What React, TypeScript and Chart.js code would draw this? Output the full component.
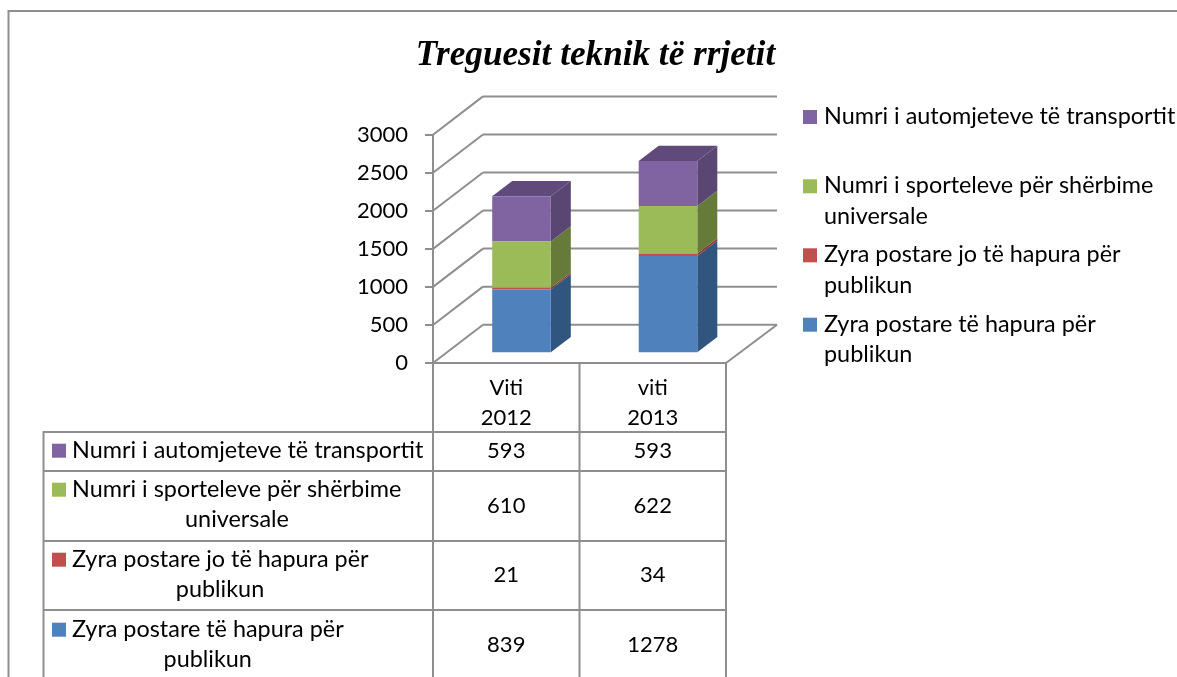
import React, { useEffect, useRef } from "react";
import { Chart, registerables } from "chart.js";

Chart.register(...registerables);

const titleText = "Treguesit teknik të rrjetit";
const categories = [["Viti", "2012"], ["viti", "2013"]];
const vehicles = [593, 593];
const counters = [610, 622];
const closedOffices = [21, 34];
const openOffices = [839, 1278];

const vehiclesName = ["Numri i automjeteve të transportit"];
const countersName = ["Numri i sporteleve për shërbime", "universale"];
const closedName = ["Zyra postare jo të hapura për", "publikun"];
const openName = ["Zyra postare të hapura për", "publikun"];

const frontColors = ["#4F81BD", "#C0504D", "#9BBB59", "#8064A2"];
const sideColors = ["#30557F", "#8C3A38", "#667B3A", "#5A4672"];
const topColor = "#5F4A7B";
const lineColor = "#8E8E8E";
const FONT = "Lato, Carlito, 'Open Sans', sans-serif";
const FS = 23.4;
const NUM_FS = 22;

// 3D projection of the Excel-style plot
const WALL_DX = 50;
const WALL_DY = -38.3;
const WALL_RIGHT = 777;
const BAR_SHIFT_X = 15.25;
const BAR_SHIFT_Y = -9.7;
const SIDE_DX = 20;
const SIDE_DY = -15.3;

function seg(ctx: CanvasRenderingContext2D, x1: number, y1: number, x2: number, y2: number) {
  ctx.beginPath();
  ctx.moveTo(x1, y1);
  ctx.lineTo(x2, y2);
  ctx.stroke();
}

const depthPlugin = {
  id: "depth",
  beforeDatasetsDraw(chart: any) {
    const { ctx, chartArea, scales } = chart;
    const y = scales.y;
    ctx.save();
    ctx.strokeStyle = lineColor;
    ctx.lineWidth = 2;
    // walls and floor
    y.ticks.forEach((t: any) => {
      const py = y.getPixelForValue(t.value);
      const bx = chartArea.left + WALL_DX;
      const by = py + WALL_DY;
      seg(ctx, chartArea.left, py, bx, by);
      seg(ctx, bx, by, WALL_RIGHT, by);
    });
    seg(ctx, chartArea.right, chartArea.bottom, WALL_RIGHT, chartArea.bottom + WALL_DY);
    // table grid
    const H = chart.height;
    const L = 43.5;
    const rowLines = [432, 471, 541, 610];
    rowLines.forEach((r) => seg(ctx, L, r, chartArea.right, r));
    seg(ctx, L, rowLines[0] - 1, L, H);
    const mid = (chartArea.left + chartArea.right) / 2;
    [chartArea.left, mid, chartArea.right].forEach((v) => seg(ctx, v, chartArea.bottom, v, H));
    // outer frame
    seg(ctx, 8.5, 11, 1177, 11);
    seg(ctx, 8.5, 10, 8.5, H);
    ctx.restore();

    // bar faces in depth
    ctx.save();
    ctx.translate(BAR_SHIFT_X, BAR_SHIFT_Y);
    const last = chart.data.datasets.length - 1;
    chart.data.datasets.forEach((_: any, d: number) => {
      chart.getDatasetMeta(d).data.forEach((b: any) => {
        const p = b.getProps(["x", "y", "base", "width"], true);
        const r = p.x + p.width / 2;
        const l = p.x - p.width / 2;
        ctx.fillStyle = sideColors[d];
        ctx.beginPath();
        ctx.moveTo(r, p.y);
        ctx.lineTo(r + SIDE_DX, p.y + SIDE_DY);
        ctx.lineTo(r + SIDE_DX, p.base + SIDE_DY);
        ctx.lineTo(r, p.base);
        ctx.closePath();
        ctx.fill();
        if (d === last) {
          ctx.fillStyle = topColor;
          ctx.beginPath();
          ctx.moveTo(l, p.y);
          ctx.lineTo(l + SIDE_DX, p.y + SIDE_DY);
          ctx.lineTo(r + SIDE_DX, p.y + SIDE_DY);
          ctx.lineTo(r, p.y);
          ctx.closePath();
          ctx.fill();
        }
      });
    });
  },
  afterDatasetsDraw(chart: any) {
    const { ctx, scales } = chart;
    ctx.restore();

    ctx.save();
    ctx.fillStyle = "#000";
    ctx.textBaseline = "alphabetic";
    // title
    ctx.textAlign = "center";
    ctx.font = "italic bold 35.2px 'Liberation Serif', serif";
    ctx.fillText(titleText, 595.5, 65);

    ctx.font = `${FS}px ${FONT}`;
    // legend, top to bottom = reversed stack order
    const order = [3, 2, 1, 0];
    const legendY = [124, 193.3, 262.3, 331.7];
    order.forEach((d, i) => {
      const ds = chart.data.datasets[d];
      ctx.fillStyle = frontColors[d];
      ctx.fillRect(803, legendY[i] - 14, 14, 14);
      ctx.fillStyle = "#000";
      ctx.textAlign = "left";
      ds.nameLines.forEach((ln: string, j: number) => ctx.fillText(ln, 824, legendY[i] + j * 30.7));
    });

    // data table
    const rowBase = [457.7, 496.7, 566.7, 636.7];
    const rowCenter = [458, 513, 582, 652];
    const secondCenter = [0, 237, 220, 207.7];
    order.forEach((d, i) => {
      const ds = chart.data.datasets[d];
      ctx.font = `${FS}px ${FONT}`;
      ctx.fillStyle = frontColors[d];
      ctx.fillRect(52, rowBase[i] - 14, 14, 14);
      ctx.fillStyle = "#000";
      ctx.textAlign = "left";
      ctx.fillText(ds.nameLines[0], 72, rowBase[i]);
      if (ds.nameLines[1]) {
        ctx.textAlign = "center";
        ctx.fillText(ds.nameLines[1], secondCenter[i], rowBase[i] + 30.5);
      }
      ctx.textAlign = "center";
      ctx.font = `${NUM_FS}px ${FONT}`;
      ds.data.forEach((v: number, c: number) => {
        ctx.fillText(String(v), scales.x.getPixelForValue(c), rowCenter[i]);
      });
    });
    ctx.restore();
  },
};

export default function App() {
  const ref = useRef<HTMLCanvasElement>(null);
  useEffect(() => {
    const chart = new Chart(ref.current!, {
      type: "bar",
      data: {
        labels: categories,
        datasets: [
          { label: openName.join(" "), nameLines: openName, data: openOffices, backgroundColor: frontColors[0] },
          { label: closedName.join(" "), nameLines: closedName, data: closedOffices, backgroundColor: frontColors[1] },
          { label: countersName.join(" "), nameLines: countersName, data: counters, backgroundColor: frontColors[2] },
          { label: vehiclesName.join(" "), nameLines: vehiclesName, data: vehicles, backgroundColor: frontColors[3] },
        ] as any,
      },
      options: {
        animation: false,
        responsive: false,
        layout: { padding: { top: 134.7, right: 451, bottom: 0, left: 0 } },
        datasets: { bar: { categoryPercentage: 1, barPercentage: 0.4, clip: false } as any },
        plugins: { legend: { display: false }, title: { display: false }, tooltip: { enabled: false } },
        scales: {
          x: {
            stacked: true,
            afterFit: (s: any) => { s.height = 314; },
            grid: { drawOnChartArea: false, drawTicks: false },
            border: { color: lineColor, width: 2 },
            ticks: { color: "#000", padding: 10, maxRotation: 0, font: { family: FONT, size: NUM_FS, lineHeight: 1.36 } },
          },
          y: {
            stacked: true,
            min: 0,
            max: 3000,
            afterFit: (s: any) => { s.width = 433; },
            grid: { drawOnChartArea: false, drawTicks: true, tickLength: 8, color: lineColor, lineWidth: 2 },
            border: { color: lineColor, width: 2 },
            ticks: {
              stepSize: 500,
              color: "#000",
              padding: 17,
              font: { family: FONT, size: NUM_FS },
              callback: (v: any) => String(v),
            },
          },
        },
      } as any,
      plugins: [depthPlugin],
    });
    return () => chart.destroy();
  }, []);
  return (
    <canvas
      ref={ref}
      width={1177}
      height={677}
      style={{ position: "fixed", left: 0, top: 0, width: 1177, height: 677, display: "block", background: "#fff" }}
    />
  );
}
